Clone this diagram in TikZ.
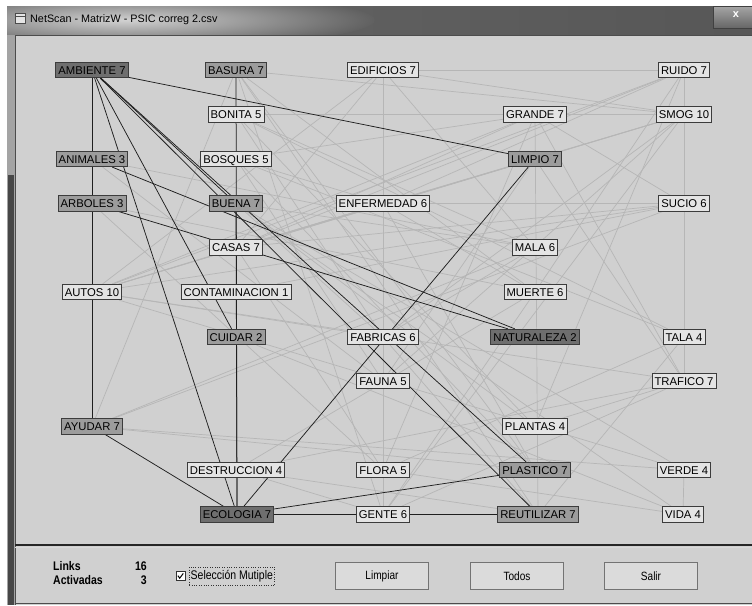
\documentclass[tikz,border=0pt]{standalone}
\usepackage{fontspec}
\setmainfont{Liberation Sans}
\newfontfamily\narrowfont[FakeStretch=0.84]{Liberation Sans}

\definecolor{panel}{HTML}{D0D0D0}
\definecolor{boxlow}{HTML}{E4E4E4}
\definecolor{boxlink}{HTML}{9C9C9C}
\definecolor{boxon}{HTML}{6E6E6E}
\definecolor{boxline}{HTML}{3C3C3C}
\definecolor{faint}{HTML}{B6B6B6}
\definecolor{framedark}{HTML}{474747}
\definecolor{framelight}{HTML}{A4A4A4}
\definecolor{titlegray}{HTML}{606060}

\pgfdeclarelayer{back}
\pgfdeclarelayer{lines}
\pgfsetlayers{back,lines,main}

\tikzset{
  word/.style={draw=boxline, line width=0.8pt, inner xsep=2.6pt, inner ysep=0pt,
    minimum height=15.5pt, text height=8.1pt, text depth=0pt,
    font=\fontsize{11.3}{12}\selectfont},
  wordlow/.style={word, fill=boxlow},
  wordlink/.style={word, fill=boxlink},
  wordon/.style={word, fill=boxon},
  faintlink/.style={draw=faint, line width=0.7pt},
  boldlink/.style={draw=black!88, line width=0.75pt},
  winbutton/.style={draw=black!55, fill=black!14, line width=0.8pt,
    minimum width=93pt, minimum height=27pt,
    font=\narrowfont\fontsize{12}{14}\selectfont},
  paneltext/.style={inner sep=0pt, font=\narrowfont\bfseries\fontsize{12.5}{14}\selectfont}
}

\begin{document}
\begin{tikzpicture}[x=1pt,y=-1pt]
  \useasboundingbox (0,0) rectangle (752,605);

  % words, column by column
  \node[wordon]   (ambiente)      at (92,70)    {AMBIENTE 7};
  \node[wordlink] (animales)      at (92,159)   {ANIMALES 3};
  \node[wordlink] (arboles)       at (92,203.5) {ARBOLES 3};
  \node[wordlow]  (autos)         at (92,292)   {AUTOS 10};
  \node[wordlink] (ayudar)        at (92,426.5) {AYUDAR 7};

  \node[wordlink] (basura)        at (236,70)    {BASURA 7};
  \node[wordlow]  (bonita)        at (236,114.5) {BONITA 5};
  \node[wordlow]  (bosques)       at (236,159)   {BOSQUES 5};
  \node[wordlink] (buena)         at (236,203.5) {BUENA 7};
  \node[wordlow]  (casas)         at (236,247.5) {CASAS 7};
  \node[wordlow]  (contaminacion) at (236,292)   {CONTAMINACION 1};
  \node[wordlink] (cuidar)        at (236,337)   {CUIDAR 2};
  \node[wordlow]  (destruccion)   at (236,470)   {DESTRUCCION 4};
  \node[wordon]   (ecologia)      at (237,514.5) {ECOLOGIA 7};

  \node[wordlow]  (edificios)     at (383,70)    {EDIFICIOS 7};
  \node[wordlow]  (enfermedad)    at (383,203.5) {ENFERMEDAD 6};
  \node[wordlow]  (fabricas)      at (383,337)   {FABRICAS 6};
  \node[wordlow]  (fauna)         at (383,381)   {FAUNA 5};
  \node[wordlow]  (flora)         at (383,470)   {FLORA 5};
  \node[wordlow]  (gente)         at (383,514.5) {GENTE 6};

  \node[wordlow]  (grande)        at (535,114.5) {GRANDE 7};
  \node[wordlink] (limpio)        at (535,159)   {LIMPIO 7};
  \node[wordlow]  (mala)          at (535,247.5) {MALA 6};
  \node[wordlow]  (muerte)        at (535,292)   {MUERTE 6};
  \node[wordon]   (naturaleza)    at (535,337)   {NATURALEZA 2};
  \node[wordlow]  (plantas)       at (535,426.5) {PLANTAS 4};
  \node[wordlink] (plastico)      at (535,470)   {PLASTICO 7};
  \node[wordlink] (reutilizar)    at (538,514.5) {REUTILIZAR 7};

  \node[wordlow]  (ruido)         at (684,70)    {RUIDO 7};
  \node[wordlow]  (smog)          at (684,114.5) {SMOG 10};
  \node[wordlow]  (sucio)         at (684,203.5) {SUCIO 6};
  \node[wordlow]  (tala)          at (684,337)   {TALA 4};
  \node[wordlow]  (trafico)       at (684,381)   {TRAFICO 7};
  \node[wordlow]  (verde)         at (684,470)   {VERDE 4};
  \node[wordlow]  (vida)          at (683,514.5) {VIDA 4};

  % links
  \begin{pgfonlayer}{lines}
    \foreach \a/\b in {edificios/gente, grande/reutilizar, ruido/trafico, verde/vida,
        edificios/ruido, grande/smog, enfermedad/sucio, basura/smog, edificios/smog,
        limpio/smog, grande/trafico, limpio/trafico, ruido/plantas, smog/fabricas,
        smog/gente, sucio/casas, sucio/contaminacion, cuidar/vida, sucio/ayudar,
        tala/bonita, tala/bosques, trafico/autos, trafico/destruccion, verde/autos,
        vida/buena, verde/buena, trafico/gente, flora/vida, gente/muerte,
        ayudar/plastico, ayudar/verde, destruccion/muerte, destruccion/reutilizar,
        basura/ayudar, basura/gente, autos/limpio, autos/smog, autos/grande,
        autos/ruido, autos/sucio, ruido/casas, ruido/enfermedad, grande/flora,
        smog/casas, smog/bonita, smog/fauna, animales/fauna, animales/mala,
        arboles/muerte, arboles/flora, autos/enfermedad, autos/edificios,
        autos/fabricas, ayudar/mala, basura/plastico, basura/muerte,
        basura/reutilizar, bonita/fabricas, bonita/plantas, bonita/mala,
        bosques/fauna, bosques/plastico, bosques/grande, bosques/enfermedad,
        buena/mala, buena/fabricas, buena/plantas, casas/limpio, casas/flora,
        casas/edificios, casas/grande, edificios/mala, edificios/fauna,
        enfermedad/muerte, enfermedad/plastico, fabricas/reutilizar, fabricas/mala,
        fauna/limpio, flora/tala, ruido/muerte, grande/sucio, trafico/plantas,
        tala/reutilizar, destruccion/gente}
      \draw[faintlink] (\a) -- (\b);
    \foreach \a/\b in {ambiente/ayudar, ambiente/limpio, ambiente/ecologia,
        ambiente/cuidar, ambiente/plastico, ambiente/reutilizar, ambiente/buena,
        ecologia/ayudar, ecologia/limpio, ecologia/plastico, ecologia/reutilizar,
        ecologia/basura, ecologia/buena, naturaleza/animales, naturaleza/arboles}
      \draw[boldlink] (\a) -- (\b);
  \end{pgfonlayer}

  % window
  \begin{pgfonlayer}{back}
    \fill[white] (0,0) rectangle (752,605);
    \fill[framelight] (7,6) rectangle (752,605);
    \fill[framedark] (8,175) rectangle (14,605);
    \begin{scope}
      \clip (7,6) rectangle (752,34);
      \fill[titlegray] (7,6) rectangle (752,34);
      \shade[left color=titlegray, middle color=black!76, right color=black!66]
        (300,6) rectangle (752,34);
      \shade[inner color=black!18, outer color=titlegray] (125,20) ellipse (250 and 28);
    \end{scope}
    \fill[panel] (15,35) rectangle (752,605);
    \draw[black!70, line width=0.8pt] (15,35) -- (752,35);
    \draw[black!70, line width=0.8pt] (15,35) -- (15,605);
    \draw[black!85, line width=1.6pt] (15,545) -- (752,545);
    \draw[white!85!black, line width=0.8pt] (15,547) -- (752,547);
    \draw[black!70, line width=0.8pt] (15,603) -- (752,603);
    \shade[top color=black!35, bottom color=black!60, draw=black!75] (713,6) rectangle (752,28);
    \fill[black!10, draw=black!70, line width=0.5pt] (15,13) rectangle (25,23);
    \draw[black!70, line width=0.5pt] (15,16) -- (25,16);
  \end{pgfonlayer}

  \node[anchor=west, inner sep=0pt, font=\fontsize{10.8}{12}\selectfont] (title) at (30,19.5) {NetScan - MatrizW - PSIC correg 2.csv};
  \node[inner sep=0pt, text=white, font=\bfseries\fontsize{11}{12}\selectfont] (closex) at (736,15) {x};

  % bottom bar
  \node[paneltext, anchor=west] (linkslabel) at (53,566) {Links};
  \node[paneltext, anchor=east] (linksvalue) at (147,566) {16};
  \node[paneltext, anchor=west] (activlabel) at (53,580) {Activadas};
  \node[paneltext, anchor=east] (activvalue) at (147,580) {3};

  \node[draw=black!80, fill=white, line width=0.6pt, minimum size=9pt, inner sep=0pt] (checkbox) at (180.5,576) {};
  \draw[line width=1pt] ([xshift=-2.6pt,yshift=0.3pt]checkbox.center) -- ([xshift=-0.8pt,yshift=-2.2pt]checkbox.center) -- ([xshift=2.8pt,yshift=2.6pt]checkbox.center);
  \node[draw=black!80, dotted, anchor=west, inner xsep=1.5pt, minimum height=18pt,
        font=\narrowfont\fontsize{12.5}{14}\selectfont] (multisel) at (189,576) {Selección Mutiple};

  \node[winbutton] (limpiar) at (382,576) {Limpiar};
  \node[winbutton] (todos)   at (517,576) {Todos};
  \node[winbutton] (salir)   at (651,576) {Salir};
\end{tikzpicture}
\end{document}
